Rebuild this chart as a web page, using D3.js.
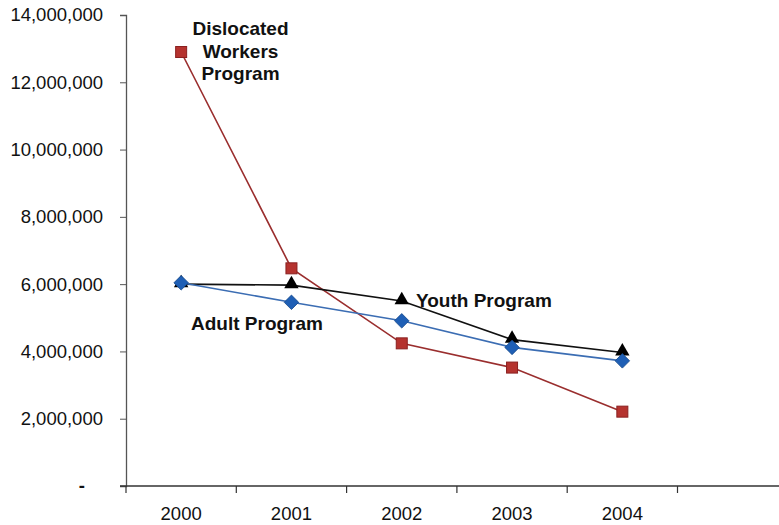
<!DOCTYPE html>
<html>
<head>
<meta charset="utf-8">
<script src="https://cdn.jsdelivr.net/npm/d3@7"></script>
<style>
  html, body { margin: 0; padding: 0; background: #fff; }
  svg { display: block; }
  text { font-family: "Liberation Sans", Arial, Helvetica, sans-serif; fill: #111; }
</style>
</head>
<body>
<svg id="chart" width="779" height="525"></svg>
<script>
// Program years and funding amounts for each program
const years = ["2000", "2001", "2002", "2003", "2004"];
const dislocatedWorkers = [12900000, 6470000, 4240000, 3520000, 2210000];
const youthProgram = [6000000, 5970000, 5500000, 4350000, 3970000];
const adultProgram = [6040000, 5460000, 4910000, 4120000, 3720000];
const yTicks = [0, 2000000, 4000000, 6000000, 8000000, 10000000, 12000000, 14000000];

const svg = d3.select("#chart");
const plotLeft = 126, plotBottom = 486, plotTop = 15;

// one empty slot after 2004 keeps the axis running past the last year
const x = d3.scaleBand().domain([...years, ""]).range([plotLeft, plotLeft + 6 * 110.3]);
const y = d3.scaleLinear().domain([0, 14000000]).range([plotBottom, plotTop]);
const cx = d => x(d) + x.bandwidth() / 2;

// y axis
const yAxis = svg.append("g")
  .attr("transform", `translate(${plotLeft},0)`)
  .call(d3.axisLeft(y).tickValues(yTicks).tickSize(6).tickPadding(17)
    .tickFormat(d => d === 0 ? "-" : d3.format(",")(d)));
yAxis.select(".domain").attr("stroke", "#555").attr("stroke-width", 1.3);
yAxis.selectAll(".tick line").attr("stroke", "#555");
yAxis.selectAll(".tick text").attr("font-size", 18.5).attr("fill", "#111")
  .attr("font-family", "'Liberation Sans', Arial, sans-serif");
yAxis.selectAll(".tick text").filter(d => d === 0).attr("dx", -18).attr("font-weight", "bold");

// x axis: ticks sit on the band boundaries, labels centred in each band
const xAxis = svg.append("g").attr("transform", `translate(0,${plotBottom})`);
xAxis.append("line").attr("x1", plotLeft - 6).attr("x2", 779).attr("y1", 0).attr("y2", 0)
  .attr("stroke", "#333").attr("stroke-width", 1.3);
xAxis.selectAll("line.tk").data([...years, ""]).join("line").attr("class", "tk")
  .attr("x1", d => x(d)).attr("x2", d => x(d)).attr("y1", 0).attr("y2", 7)
  .attr("stroke", "#333").attr("stroke-width", 1.2);
xAxis.selectAll("text").data(years).join("text")
  .attr("x", d => cx(d)).attr("y", 34).attr("text-anchor", "middle")
  .attr("font-size", 18.5).text(d => d);

const line = d3.line().x((d, i) => cx(years[i])).y(d => y(d));

// series lines
svg.append("path").datum(dislocatedWorkers).attr("d", line)
  .attr("fill", "none").attr("stroke", "#9a2e2e").attr("stroke-width", 1.6);
svg.append("path").datum(youthProgram).attr("d", line)
  .attr("fill", "none").attr("stroke", "#111").attr("stroke-width", 1.6);
svg.append("path").datum(adultProgram).attr("d", line)
  .attr("fill", "none").attr("stroke", "#3b6db3").attr("stroke-width", 1.6);

// markers
svg.selectAll("rect.dw").data(dislocatedWorkers).join("rect").attr("class", "dw")
  .attr("x", (d, i) => cx(years[i]) - 5.5).attr("y", d => y(d) - 5.5)
  .attr("width", 11).attr("height", 11)
  .attr("fill", "#b5332f").attr("stroke", "#8a2020").attr("stroke-width", 1);

const tri = d3.symbol().type(d3.symbolTriangle).size(90);
svg.selectAll("path.yp").data(youthProgram).join("path").attr("class", "yp")
  .attr("d", tri).attr("transform", (d, i) => `translate(${cx(years[i])},${y(d) - 1})`)
  .attr("fill", "#000");

// square markers turned 45 degrees for the adult series
const dia = d3.symbol().type(d3.symbolSquare).size(105);
svg.selectAll("path.ap").data(adultProgram).join("path").attr("class", "ap")
  .attr("d", dia).attr("transform", (d, i) => `translate(${cx(years[i])},${y(d)}) rotate(45)`)
  .attr("fill", "#1f5fb5").attr("stroke", "#174a8c").attr("stroke-width", 0.8);

// series labels
const lbl = svg.append("g").attr("font-size", 19).attr("font-weight", "bold");
lbl.append("text").attr("x", 240.5).attr("y", 35).attr("text-anchor", "middle")
  .selectAll("tspan").data(["Dislocated", "Workers", "Program"]).join("tspan")
  .attr("x", 240.5).attr("dy", (d, i) => i === 0 ? 0 : 22.5).text(d => d);
lbl.append("text").attr("x", 416).attr("y", 307).text("Youth Program");
lbl.append("text").attr("x", 191).attr("y", 330).text("Adult Program");
</script>
</body>
</html>
